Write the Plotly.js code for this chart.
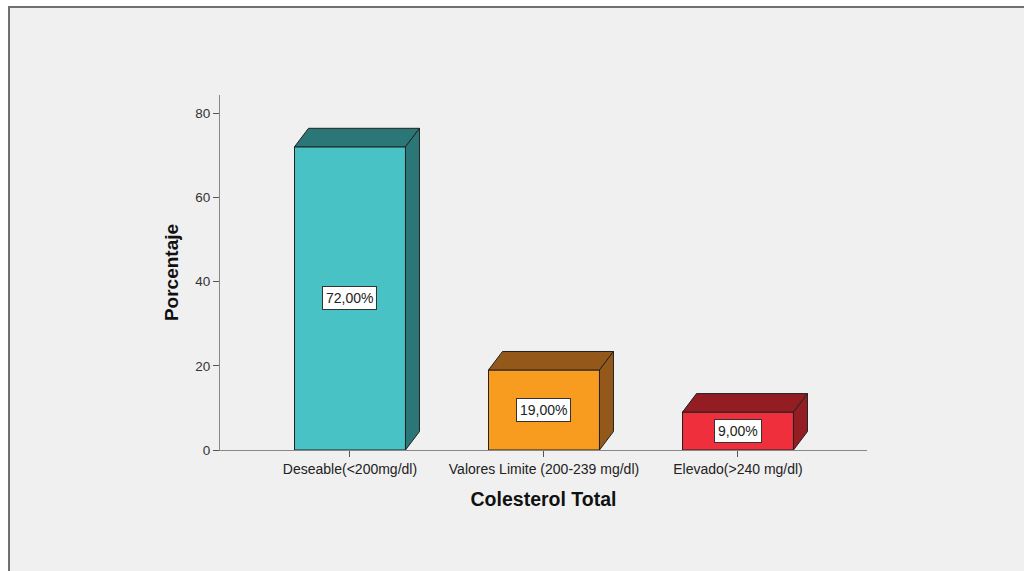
<!DOCTYPE html>
<html>
<head>
<meta charset="utf-8">
<script src="https://cdn.plot.ly/plotly-3.0.1.min.js"></script>
<style>
html,body{margin:0;padding:0;background:#ffffff;}
#chart{width:1024px;height:571px;}
</style>
</head>
<body>
<div id="chart"></div>
<script>
// Data
const categories = ["Deseable(<200mg/dl)", "Valores Limite (200-239 mg/dl)", "Elevado(>240 mg/dl)"];
const values = [72, 19, 9];
const frontColors = ["#48c2c5", "#f89c1f", "#ef2f3b"];
const darkColors = ["#2b7677", "#94591a", "#931d22"];
const yTicks = [0, 20, 40, 60, 80];

// Geometry / layout settings
const W = 1024, H = 571;
const margin = {l: 220, r: 157, t: 95, b: 121};
const xRange = [-0.67, 2.665];
const yRange = [0, 84.3];
const plotW = W - margin.l - margin.r;
const plotH = H - margin.t - margin.b;
const pxPerX = plotW / (xRange[1] - xRange[0]);
const pxPerY = plotH / (yRange[1] - yRange[0]);
const barW = 0.572;
const dx = 14 / pxPerX;   // depth offset in x data units
const dy = 18.5 / pxPerY; // depth offset in y data units
const xs = categories.map((c, i) => i);

const trace = {
  type: 'bar',
  x: xs,
  y: values,
  width: barW,
  marker: {color: frontColors, line: {color: '#222222', width: 1}},
  hoverinfo: 'skip',
  showlegend: false
};

const shapes = [];
// outer frame
shapes.push({
  type: 'rect', xref: 'paper', yref: 'paper', layer: 'below',
  x0: (9 - margin.l) / plotW, x1: (W + 20 - margin.l) / plotW,
  y0: -(H + 20 - margin.t - plotH) / plotH, y1: (H - 7 - margin.b) / plotH,
  fillcolor: '#f0f0f0', line: {color: '#707070', width: 2}
});
values.forEach((v, i) => {
  const L = i - barW / 2, R = i + barW / 2;
  shapes.push({
    type: 'path', xref: 'x', yref: 'y',
    path: `M ${L},${v} L ${L + dx},${v + dy} L ${R + dx},${v + dy} L ${R},${v} Z`,
    fillcolor: darkColors[i], line: {color: '#222222', width: 1}
  });
  shapes.push({
    type: 'path', xref: 'x', yref: 'y',
    path: `M ${R},0 L ${R + dx},${dy} L ${R + dx},${v + dy} L ${R},${v} Z`,
    fillcolor: darkColors[i], line: {color: '#222222', width: 1}
  });
});

const annotations = values.map((v, i) => ({
  x: i, y: v / 2, xref: 'x', yref: 'y',
  text: v.toFixed(2).replace('.', ',') + '%',
  showarrow: false,
  bgcolor: '#ffffff', bordercolor: '#333333', borderwidth: 1, borderpad: 3,
  font: {family: 'Liberation Sans, Arial, sans-serif', size: 14, color: '#222222'}
}));

const layout = {
  width: W, height: H,
  margin: margin,
  paper_bgcolor: '#ffffff',
  plot_bgcolor: 'rgba(0,0,0,0)',
  font: {family: 'Liberation Sans, Arial, sans-serif', size: 12, color: '#333333'},
  xaxis: {
    range: xRange, tickvals: xs, ticktext: categories,
    showgrid: false, zeroline: false,
    showline: true, linecolor: '#888888', linewidth: 1,
    ticks: 'outside', ticklen: 6, tickcolor: '#555555',
    tickfont: {size: 14, color: '#222222'},
    title: {text: '<b>Colesterol Total</b>', font: {size: 19.5, color: '#111111'}, standoff: 16}
  },
  yaxis: {
    range: yRange, tickvals: yTicks,
    showgrid: false, zeroline: false,
    showline: true, linecolor: '#888888', linewidth: 1,
    ticks: 'outside', ticklen: 6, tickcolor: '#555555',
    tickfont: {size: 13.5, color: '#333333'},
    title: {text: '<b>Porcentaje</b>', font: {size: 19, color: '#111111'}, standoff: 11}
  },
  shapes: shapes,
  annotations: annotations,
  bargap: 0
};

Plotly.newPlot('chart', [trace], layout, {displayModeBar: false, staticPlot: true});
</script>
</body>
</html>
